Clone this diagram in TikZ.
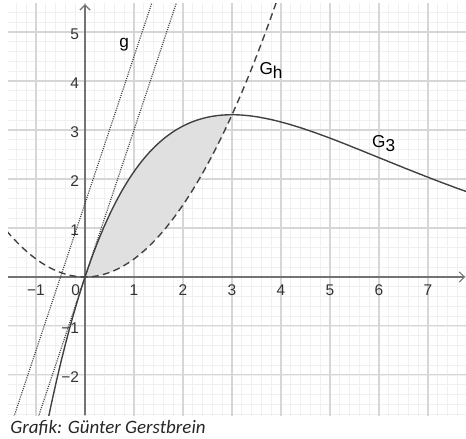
\documentclass[tikz,border=0pt]{standalone}
\usepackage{fontspec}
\setmainfont{Liberation Sans}
\newfontfamily\captionfont{Carlito}
\usetikzlibrary{arrows.meta}

\tikzstyle{every node}=[font=\fontsize{9}{10}\selectfont, text=black!80, inner sep=1pt]
\tikzstyle{minorgrid}=[black!6, line width=0.4pt]
\tikzstyle{majorgrid}=[black!16, line width=0.6pt]
\tikzstyle{axis}=[black!55, line width=0.7pt, -{Straight Barb[length=3pt,width=6pt]}]
\tikzstyle{curve}=[black!75, line width=0.8pt]
\tikzstyle{dashcurve}=[curve, dash pattern=on 4pt off 2.5pt]
\tikzstyle{dotline}=[black!75, line width=0.7pt, dash pattern=on 0.6pt off 0.7pt]
\tikzstyle{graphlabel}=[font=\fontsize{10}{12}\selectfont, text=black]

\begin{document}
\begin{tikzpicture}
    \useasboundingbox (-1.735,-3.306) rectangle (7.776,5.653);
    \begin{scope}
        \clip (-1.57,-2.82) rectangle (7.78,5.59);
        \draw[minorgrid] (-1.6,-3) grid[step=0.2] (8,6);
        \draw[majorgrid] (-1.6,-3) grid[step=1] (8,6);
        % area between G_3 and G_h
        \fill[black!12] plot[domain=0:3, samples=60] (\x,{3*\x*exp(-\x/3)})
            -- plot[domain=3:0, samples=60] (\x,{\x*\x/exp(1)}) -- cycle;
        \draw[axis] (-1.6,0) -- (7.76,0);
        \draw[axis] (0,-2.82) -- (0,5.57);
        \draw[dotline] (-1.45,-2.85) -- (1.40,5.70);
        \draw[dotline] (-0.95,-2.85) -- (1.90,5.70);
        \draw[dashcurve] plot[domain=-1.6:3.95, samples=100] (\x,{\x*\x/exp(1)});
        \draw[curve] plot[domain=-0.76:7.8, samples=150] (\x,{3*\x*exp(-\x/3)});
    \end{scope}
    \foreach \i/\t in {-1/−1,1/1,2/2,3/3,4/4,5/5,6/6,7/7}
        \node (xl\i) at (\i,-0.27) {\t};
    \node (xl0) at (-0.19,-0.27) {0};
    \foreach \i/\t in {-2/−2,-1/−1,1/1,2/2,3/3,4/4,5/5}
        \node[anchor=east] (yl\i) at (-0.08,\i-0.05) {\t};
    \node[graphlabel] (lg) at (0.8,4.75) {g};
    \node[graphlabel, anchor=west] (lgh) at (3.52,4.22) {G\raisebox{-0.45ex}{h}};
    \node[graphlabel, anchor=west] (lg3) at (5.82,2.72) {G\raisebox{-0.45ex}{3}};
    \node[anchor=base west, font=\captionfont\itshape\fontsize{11}{13}\selectfont, text=black!85, inner sep=0pt]
        (credit) at (-1.53,-3.2) {Grafik: Günter Gerstbrein};
\end{tikzpicture}
\end{document}
